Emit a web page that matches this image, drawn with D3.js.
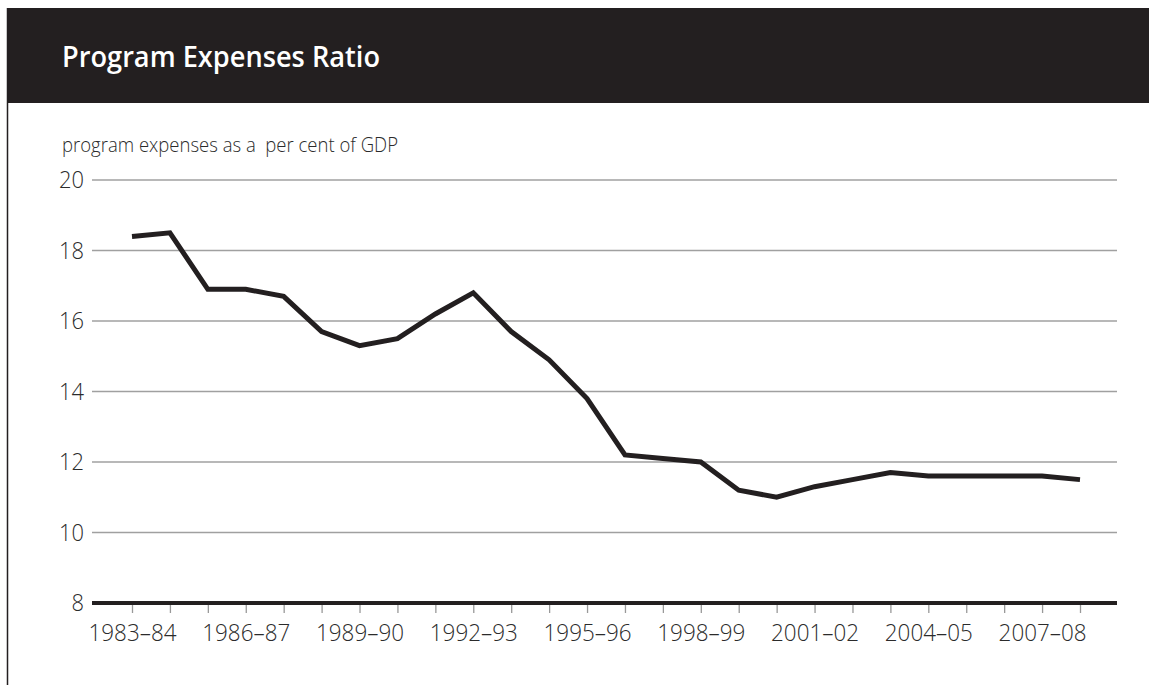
<!DOCTYPE html>
<html>
<head>
<meta charset="utf-8">
<script src="https://cdn.jsdelivr.net/npm/d3@7"></script>
<style>
  html, body { margin: 0; padding: 0; background: #fff; }
  svg { display: block; }
</style>
</head>
<body>
<svg id="chart" width="1149" height="685"></svg>
<script>
const categories = ["1983–84","1984–85","1985–86","1986–87","1987–88","1988–89","1989–90","1990–91","1991–92","1992–93","1993–94","1994–95","1995–96","1996–97","1997–98","1998–99","1999–00","2000–01","2001–02","2002–03","2003–04","2004–05","2005–06","2006–07","2007–08","2008–09"];
const values = [18.4,18.5,16.9,16.9,16.7,15.7,15.3,15.5,16.2,16.8,15.7,14.9,13.8,12.2,12.1,12.0,11.2,11.0,11.3,11.5,11.7,11.6,11.6,11.6,11.6,11.5];
const yTicks = [8,10,12,14,16,18,20];
const xLabels = ["1983–84","1986–87","1989–90","1992–93","1995–96","1998–99","2001–02","2004–05","2007–08"];
const title = "Program Expenses Ratio";
const subtitle = "program expenses as a  per cent of GDP";

const svg = d3.select("#chart");
const ink = "#231f20";
const txt = "#2b2b2b";
const font = "'Open Sans', 'Noto Sans', sans-serif";

// frame
svg.append("rect").attr("x", 7).attr("y", 8).attr("width", 1142).attr("height", 95).attr("fill", ink);
svg.append("line").attr("x1", 7.5).attr("x2", 7.5).attr("y1", 8).attr("y2", 685).attr("stroke", ink).attr("stroke-width", 1.5);

svg.append("text").attr("x", 62).attr("y", 67)
  .attr("fill", "#fff")
  .attr("font-family", font)
  .attr("font-weight", 600).attr("font-size", 29.5)
  .attr("textLength", 318).attr("lengthAdjust", "spacingAndGlyphs")
  .text(title);

svg.append("text").attr("x", 62).attr("y", 152)
  .attr("fill", txt).attr("font-family", font).attr("font-weight", 300).attr("font-size", 20.5)
  .attr("textLength", 336).attr("lengthAdjust", "spacingAndGlyphs")
  .style("white-space", "pre")
  .text(subtitle);

const x = d3.scalePoint().domain(categories).range([132, 1080]);
const y = d3.scaleLinear().domain([8, 20]).range([603, 180]);
const x0 = 92, x1 = 1117;

// gridlines
svg.append("g").selectAll("line").data(yTicks.filter(d => d !== 8)).join("line")
  .attr("x1", x0).attr("x2", x1)
  .attr("y1", d => y(d)).attr("y2", d => y(d))
  .attr("stroke", "#a0a0a0").attr("stroke-width", 1.3);

// y labels
svg.append("g").selectAll("text").data(yTicks).join("text")
  .attr("x", 84).attr("y", d => y(d)).attr("dy", "0.36em")
  .attr("text-anchor", "end")
  .attr("fill", txt).attr("font-family", font).attr("font-weight", 300).attr("font-size", 23)
  .attr("textLength", d => String(d).length * 12.5).attr("lengthAdjust", "spacingAndGlyphs")
  .text(d => d);

// x axis via d3.axisBottom
const xAxis = d3.axisBottom(x).tickSizeOuter(0).tickSizeInner(10).tickPadding(0)
  .tickFormat(d => xLabels.includes(d) ? d : "");
const gx = svg.append("g").attr("transform", `translate(0,${y(8)})`).call(xAxis);
gx.select(".domain").remove();
gx.selectAll(".tick line").attr("stroke", "#999").attr("stroke-width", 1.3).attr("y1", 2);
gx.selectAll(".tick text").attr("fill", txt).attr("font-family", font).attr("font-weight", 300)
  .attr("font-size", 23.5).attr("y", 37.5).attr("dy", null)
  .filter(d => xLabels.includes(d))
  .attr("textLength", 88).attr("lengthAdjust", "spacingAndGlyphs");

// baseline
svg.append("line").attr("x1", x0).attr("x2", x1).attr("y1", y(8)).attr("y2", y(8))
  .attr("stroke", ink).attr("stroke-width", 4);

// data line
const line = d3.line().x((d, i) => x(categories[i])).y(d => y(d));
svg.append("path").datum(values).attr("d", line)
  .attr("fill", "none").attr("stroke", ink).attr("stroke-width", 5).attr("stroke-linejoin", "miter");
</script>
</body>
</html>
